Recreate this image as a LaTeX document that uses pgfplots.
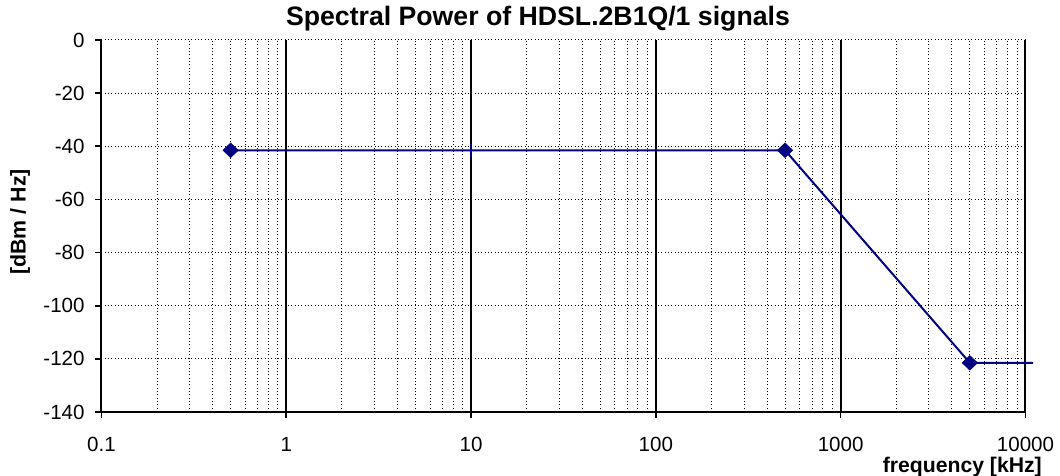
\documentclass[border=0pt]{standalone}
\usepackage{pgfplots}
\pgfplotsset{compat=1.18}
\usepackage{fontspec}
\setmainfont{Liberation Sans}
\definecolor{navy}{RGB}{0,0,128}
\begin{document}
\begin{tikzpicture}
\path[use as bounding box] (-76.1pt,-47.25pt) rectangle (718.9pt,309pt);
\begin{axis}[
  at={(0,0)}, anchor=south west,
  scale only axis, width=693pt, height=279pt,
  xmode=log, log basis x=10,
  xmin=0.1, xmax=10000, ymin=-140, ymax=0,
  xtick={0.1,1,10,100,1000,10000},
  xticklabels={0.1,1,10,100,1000,10000},
  minor xtick={0.2,0.3,0.4,0.5,0.6,0.7,0.8,0.9,2,3,4,5,6,7,8,9,20,30,40,50,60,70,80,90,200,300,400,500,600,700,800,900,2000,3000,4000,5000,6000,7000,8000,9000},
  ytick={-140,-120,-100,-80,-60,-40,-20,0},
  axis x line*=bottom, axis y line*=left,
  axis line style={black, line width=1.5pt},
  xmajorgrids, xminorgrids, ymajorgrids,
  major x grid style={black, line width=1.5pt},
  minor x grid style={black, line width=0.75pt, dash pattern=on 0.75pt off 1.75pt},
  major y grid style={black, line width=0.75pt, dash pattern=on 0.75pt off 1.75pt},
  tick align=outside,
  major tick length=4.5pt, minor tick length=0pt,
  tick style={black, line width=1.2pt},
  ticklabel style={font=\fontsize{15.4}{18}\selectfont},
  /pgf/number format/assume math mode=true,
  yticklabel style={anchor=east, inner sep=0pt, xshift=-8pt},
  xticklabel style={anchor=north, inner sep=0pt, yshift=-14pt},
  title={Spectral Power of HDSL.2B1Q/1 signals},
  title style={font=\bfseries\fontsize{20}{24}\selectfont, at={(axis description cs:0.4724,1)}, anchor=base, yshift=5.25pt, inner sep=0pt},
  ylabel={[dBm / Hz]},
  ylabel style={font=\bfseries\fontsize{16}{19}\selectfont, at={(axis description cs:-0.088,0.511)}, anchor=center, rotate=0, inner sep=0pt},
  xlabel={frequency [kHz]},
  xlabel style={font=\bfseries\fontsize{15.9}{19}\selectfont, at={(axis description cs:1.018,-0.162)}, anchor=base east, inner sep=0pt},
  clip=false,
]
\addplot[navy, line width=1.5pt, mark=none] coordinates {
  (0.5,-41.5) (10,-41.5) (500,-41.5) (5000,-121.5) (11000,-121.5)
};
\addplot[navy, only marks, mark=diamond*, mark size=5.5pt, mark options={xscale=1.4, solid, fill=navy}] coordinates {
  (0.5,-41.5) (500,-41.5) (5000,-121.5)
};
\addplot[navy, only marks, mark=|, mark size=4.8pt, mark options={line width=1.8pt}] coordinates {
  (10,-41.5)
};
\end{axis}
\end{tikzpicture}
\end{document}
